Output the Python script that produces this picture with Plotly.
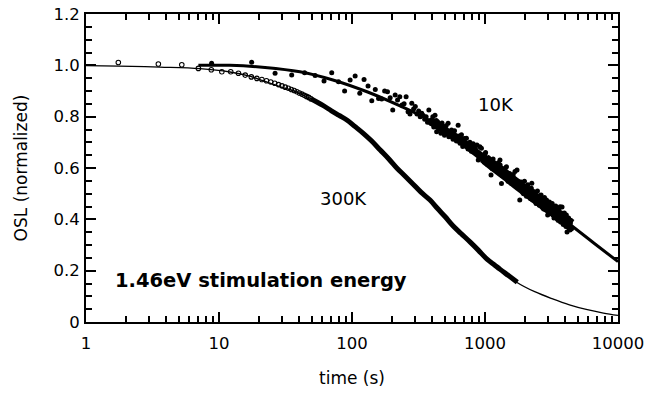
import math
import plotly.graph_objects as go

# ---------------- data ----------------
# 300 K fit curve
t300_fit = [1, 1.77, 3.6, 7.2, 12.1, 17, 21.4, 28.7, 38.6, 50.9, 68.3, 91.7, 121, 163, 218,
            287, 386, 502, 574, 771, 1035, 1300, 1741, 2364, 3227, 4314, 5767, 7768, 10000]
y300_fit = [0.999, 0.997, 0.993, 0.987, 0.974, 0.958, 0.940, 0.917, 0.895, 0.866, 0.826, 0.785,
            0.736, 0.670, 0.599, 0.537, 0.474, 0.409, 0.374, 0.310, 0.244, 0.204, 0.154, 0.118,
            0.090, 0.067, 0.049, 0.035, 0.026]

# 300 K data, individually visible points (open circles)
t300_pts = [1.75, 3.5, 5.25, 7.0, 8.75, 10.5, 12.25, 14.0, 15.75, 17.5, 19.25, 21.0, 22.75, 24.5,
            26.25, 28.0, 29.75, 31.5, 33.25, 35.0, 36.75, 38.5, 40.25, 42.0, 43.75, 45.5, 47.25, 49.0]
y300_pts = [1.011, 1.005, 1.002, 0.988, 0.983, 0.975, 0.975, 0.969, 0.962, 0.955, 0.949, 0.945,
            0.940, 0.935, 0.930, 0.925, 0.920, 0.915, 0.911, 0.906, 0.902, 0.897, 0.892, 0.888,
            0.883, 0.879, 0.875, 0.870]

# 300 K data, dense part where the circles merge into a band
t300_band = [49, 60, 70, 80, 92, 105, 121, 140, 163, 190, 218, 250, 287, 330, 386, 440, 502,
             574, 660, 771, 890, 1035, 1180, 1300, 1500, 1750]
y300_band = [0.870, 0.845, 0.823, 0.805, 0.786, 0.762, 0.736, 0.706, 0.670, 0.634, 0.599, 0.569,
             0.538, 0.506, 0.475, 0.442, 0.410, 0.375, 0.345, 0.312, 0.280, 0.245, 0.222, 0.205,
             0.181, 0.155]

# 10 K fit curve
t10_fit = [7, 12.1, 22.2, 40.6, 71.9, 129.7, 229.6, 366, 649, 1148, 1622, 2924, 4510, 6720, 10000]
y10_fit = [1.0, 1.0, 0.992, 0.975, 0.943, 0.897, 0.842, 0.791, 0.709, 0.610, 0.549, 0.448, 0.374,
           0.304, 0.235]

# 10 K data, dense core of the point cloud (early and late parts)
t10_core_a = [380, 420, 500, 600, 700, 850, 1000, 1100]
y10_core_a = [0.786, 0.772, 0.746, 0.720, 0.696, 0.662, 0.634, 0.618]
t10_core_b = [1000, 1200, 1450, 1700, 2000, 2400, 2900, 3400, 3900, 4450]
y10_core_b = [0.634, 0.602, 0.570, 0.541, 0.513, 0.482, 0.449, 0.424, 0.401, 0.380]

# 10 K data points (filled dots)
t10_pts = [8.8, 17.6, 26.4, 35.2, 44.0, 52.8, 61.6, 70.4, 79.2, 88.0, 96.8, 105.6, 114.4, 123.2,
           132.0, 140.8, 149.6, 158.4, 167.2, 176.0, 184.8, 193.6, 202.4, 211.2, 220.0, 228.8,
           237.6, 246.4, 255.2, 264.0, 272.8, 281.6, 290.4, 299.2, 308.0, 316.8, 325.6, 334.4,
           343.2, 352.0, 360.8, 369.6, 378.4, 387.2, 396.0,
           405, 412, 421, 430, 433, 440, 448, 458, 466, 475, 485, 496, 510, 528, 535, 545, 560,
           575, 590, 610, 628, 640, 649, 665, 680, 700, 725, 745, 770, 790, 815, 845, 870, 890,
           915, 940, 960, 980, 1010, 1040, 1085, 1110, 1150, 1180, 1220, 1260, 1296, 1300, 1330,
           1375, 1420, 1450, 1490, 1530, 1580, 1630, 1680, 1700, 1741, 1780, 1825, 1870, 1920,
           1980, 2050, 2100, 2170, 2230, 2248, 2280, 2350, 2420, 2480, 2560, 2640, 2720, 2800,
           2900, 2960, 3050, 3130, 3200, 3300, 3400, 3500, 3600, 3670, 3670, 3750, 3795, 3850,
           3950, 4020, 4090, 4140, 4200, 4250, 4300, 4350, 4420, 4480,
           1060, 1130, 1240, 1350, 1560, 1650, 1810, 1950, 2080, 2200, 2320, 2450, 2600, 2680,
           2850, 3000, 3100, 3250, 3350, 3450, 3550, 3700, 3820, 3900, 4000, 4060, 4160, 4280,
           4380, 4450, 560, 690, 760, 830, 905, 1000,
           2150, 2520, 2760, 3080, 3380, 3620, 3880, 4120, 4330, 2300, 2700, 3150, 3560, 4040]
y10_pts = [1.008, 1.012, 0.969, 0.962, 0.971, 0.960, 0.939, 0.971, 0.936, 0.900, 0.943, 0.958,
           0.891, 0.945, 0.919, 0.862, 0.906, 0.871, 0.869, 0.900, 0.897, 0.874, 0.826, 0.884,
           0.865, 0.878, 0.845, 0.850, 0.878, 0.819, 0.810, 0.852, 0.830, 0.840, 0.810, 0.822,
           0.800, 0.813, 0.805, 0.790, 0.800, 0.778, 0.826, 0.785, 0.772,
           0.800, 0.760, 0.806, 0.785, 0.741, 0.780, 0.757, 0.767, 0.735, 0.775, 0.760, 0.728,
           0.765, 0.774, 0.722, 0.741, 0.748, 0.712, 0.745, 0.705, 0.767, 0.725, 0.696, 0.730,
           0.684, 0.715, 0.716, 0.674, 0.700, 0.665, 0.694, 0.677, 0.690, 0.631, 0.683, 0.677,
           0.628, 0.650, 0.660, 0.615, 0.631, 0.573, 0.635, 0.595, 0.592, 0.620, 0.631, 0.612,
           0.540, 0.573, 0.600, 0.605, 0.548, 0.579, 0.540, 0.575, 0.586, 0.553, 0.592, 0.525,
           0.475, 0.545, 0.505, 0.548, 0.490, 0.535, 0.485, 0.521, 0.541, 0.475, 0.505, 0.462,
           0.510, 0.455, 0.495, 0.445, 0.485, 0.475, 0.417, 0.468, 0.425, 0.462, 0.405, 0.452,
           0.400, 0.440, 0.449, 0.397, 0.425, 0.448, 0.385, 0.425, 0.378, 0.417, 0.351, 0.371,
           0.405, 0.390, 0.358, 0.395, 0.365,
           0.640, 0.598, 0.615, 0.570, 0.570, 0.540, 0.545, 0.500, 0.528, 0.480, 0.508, 0.470,
           0.492, 0.452, 0.470, 0.430, 0.455, 0.418, 0.445, 0.410, 0.432, 0.390, 0.420, 0.388,
           0.408, 0.372, 0.398, 0.365, 0.385, 0.362, 0.728, 0.712, 0.675, 0.684, 0.640, 0.655,
           0.510, 0.490, 0.440, 0.455, 0.410, 0.425, 0.380, 0.400, 0.372, 0.478, 0.458, 0.432,
           0.395, 0.410]

x_ticks = [1, 10, 100, 1000, 10000]
x_tick_text = ["1", "10", "100", "1000", "10000"]
x_minor = [m * d for d in (1, 10, 100, 1000) for m in range(2, 10)]
y_ticks = [0, 0.2, 0.4, 0.6, 0.8, 1.0, 1.2]
y_tick_text = ["0", "0.2", "0.4", "0.6", "0.8", "1.0", "1.2"]

FONT = "DejaVu Sans"

fig = go.Figure()

# 300 K
fig.add_trace(go.Scatter(x=t300_fit, y=y300_fit, mode="lines", line=dict(color="black", width=1.3, shape="spline"),
                         hoverinfo="skip"))
fig.add_trace(go.Scatter(x=t300_band, y=y300_band, mode="lines", line=dict(color="black", width=5, shape="spline"),
                         hoverinfo="skip"))
fig.add_trace(go.Scatter(x=t300_pts, y=y300_pts, mode="markers",
                         marker=dict(symbol="circle-open", size=4.5, color="black", line=dict(width=1.1)),
                         hoverinfo="skip"))

# 10 K
fig.add_trace(go.Scatter(x=t10_core_a, y=y10_core_a, mode="lines", line=dict(color="black", width=8, shape="spline"),
                         hoverinfo="skip"))
fig.add_trace(go.Scatter(x=t10_core_b, y=y10_core_b, mode="lines", line=dict(color="black", width=11, shape="spline"),
                         hoverinfo="skip"))
fig.add_trace(go.Scatter(x=t10_pts, y=y10_pts, mode="markers",
                         marker=dict(symbol="circle", size=5, color="black"), hoverinfo="skip"))
fig.add_trace(go.Scatter(x=t10_fit, y=y10_fit, mode="lines", line=dict(color="black", width=3, shape="spline"),
                         hoverinfo="skip"))

fig.add_annotation(x=math.log10(1210), y=0.849, text="10K", showarrow=False,
                   font=dict(family=FONT, size=18, color="black"))
fig.add_annotation(x=math.log10(86), y=0.482, text="300K", showarrow=False,
                   font=dict(family=FONT, size=18, color="black"))
fig.add_annotation(x=math.log10(20.7), y=0.162, text="<b>1.46eV stimulation energy</b>", showarrow=False,
                   font=dict(family=FONT, size=19.5, color="black"))

axis_common = dict(showline=True, linewidth=2, linecolor="black", mirror="allticks",
                   ticks="inside", tickcolor="black", tickwidth=1.5, ticklen=10,
                   showgrid=False, zeroline=False, automargin=False,
                   tickfont=dict(family=FONT, size=16.5, color="black"))

fig.update_xaxes(type="log", range=[0, 4], tickmode="array", tickvals=x_ticks, ticktext=x_tick_text,
                 minor=dict(tickmode="array", tickvals=x_minor, ticks="inside", ticklen=6,
                            tickwidth=1.5, tickcolor="black", showgrid=False),
                 ticklabelstandoff=5,
                 title=dict(text="time (s)", font=dict(family=FONT, size=17, color="black"), standoff=20),
                 **axis_common)
fig.update_yaxes(range=[0, 1.2], tickmode="array", tickvals=y_ticks, ticktext=y_tick_text,
                 minor=dict(dtick=0.05, ticks="inside", ticklen=6, tickwidth=1.5, tickcolor="black",
                            showgrid=False),
                 ticklabelstandoff=1,
                 title=dict(text="OSL (normalized)", font=dict(family=FONT, size=17, color="black"), standoff=22),
                 **axis_common)

fig.update_layout(width=647, height=394, margin=dict(l=86, r=29, t=14, b=72),
                  paper_bgcolor="white", plot_bgcolor="white", showlegend=False,
                  font=dict(family=FONT, color="black"))

fig.write_html("out.html")
